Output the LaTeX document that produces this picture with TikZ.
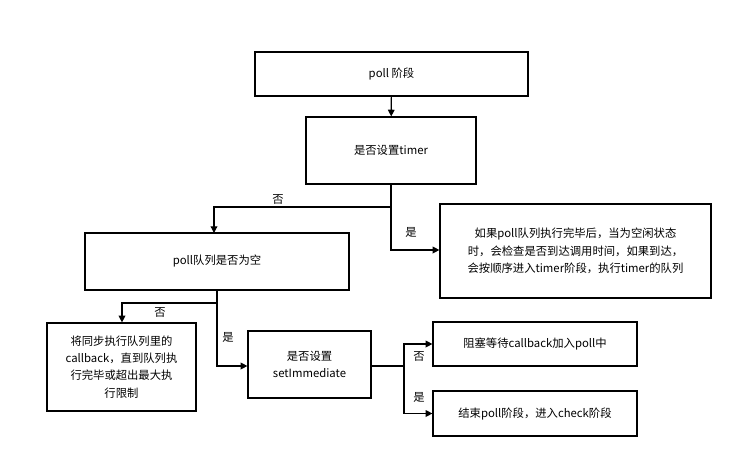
\documentclass[tikz,border=0pt]{standalone}
\usepackage{fontspec}
\setmainfont{Noto Sans CJK SC}
\usetikzlibrary{arrows.meta}
\begin{document}
\begin{tikzpicture}[x=0.75pt,y=-0.75pt,
  box/.style={draw,line width=0.9pt,align=center,font=\fontsize{8.5}{13}\selectfont,inner sep=2pt},
  conn/.style={line width=0.9pt,-{Triangle[length=5pt,width=5pt]}},
  lbl/.style={font=\fontsize{8.5}{10}\selectfont}]
\useasboundingbox (0,0) rectangle (743,468);
\node[box,minimum width=273*0.75pt,minimum height=44*0.75pt] (poll) at (391.5,74) {poll 阶段};
\node[box,minimum width=170*0.75pt,minimum height=67*0.75pt] (timer) at (391,150.5) {是否设置timer};
\node[box,minimum width=264*0.75pt,minimum height=57*0.75pt] (empty) at (217,261.5) {poll队列是否为空};
\node[box,minimum width=271*0.75pt,minimum height=94*0.75pt] (right) at (575.5,251) {如果poll队列执行完毕后，当为空闲状态\\时，会检查是否到达调用时间，如果到达，\\会按顺序进入timer阶段，执行timer的队列};
\node[box,minimum width=149*0.75pt,minimum height=88*0.75pt] (sync) at (121.5,367) {将同步执行队列里的\\callback，直到队列执\\行完毕或超出最大执\\行限制};
\node[box,minimum width=123*0.75pt,minimum height=67*0.75pt] (imm) at (309.5,364.5) {是否设置\\setImmediate};
\node[box,minimum width=204*0.75pt,minimum height=44*0.75pt] (block) at (535,344) {阻塞等待callback加入poll中};
\node[box,minimum width=204*0.75pt,minimum height=45*0.75pt] (check) at (535,413.5) {结束poll阶段，进入check阶段};
\coordinate (j1) at (391,207);
\coordinate (j2) at (217,303);
\coordinate (j3) at (404,366);
\draw[conn] (poll) -- (timer);
\draw[conn] (timer.south) -- (j1) -| (214,233);
\draw[conn] (timer.south) |- (right.west |- 0,250);
\draw[conn] (empty.south -| j2) -- (j2) -| (sync.north -| 122,0);
\draw[conn] (j2) |- (imm.west |- 0,366);
\draw[line width=0.9pt] (imm.east |- j3) -- (j3);
\draw[conn] (j3) |- (block.west);
\draw[conn] (j3) |- (check.west);
\node[lbl] at (278,200) {否};
\node[lbl] at (411,232) {是};
\node[lbl] at (160,313) {否};
\node[lbl] at (228,337) {是};
\node[lbl] at (419,357) {否};
\node[lbl] at (419,397) {是};
\end{tikzpicture}
\end{document}
